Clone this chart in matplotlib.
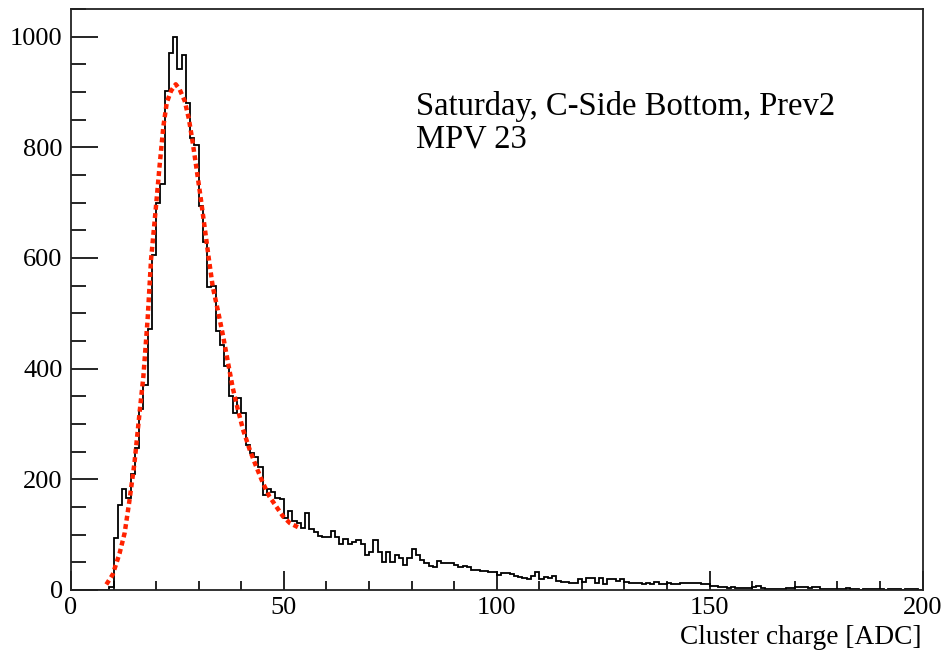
import numpy as np
import matplotlib
matplotlib.use("Agg")
import matplotlib.pyplot as plt
from matplotlib.ticker import MultipleLocator

plt.rcParams['font.family'] = ['Liberation Serif', 'DejaVu Serif']

# histogram: 200 bins of width 1 ADC, from 0 to 200
bin_edges = np.arange(0, 201, 1)
counts = [
    0, 0, 0, 0, 0, 0, 0, 0, 0, 6,
    94, 153, 182, 167, 210, 257, 327, 371, 472, 606,
    700, 734, 902, 970, 1000, 942, 966, 880, 817, 804,
    694, 629, 547, 550, 468, 443, 404, 350, 320, 347,
    320, 262, 247, 241, 223, 172, 182, 178, 166, 164,
    130, 142, 124, 121, 112, 139, 110, 105, 98, 95,
    95, 107, 95, 83, 92, 83, 87, 90, 83, 63,
    68, 90, 69, 51, 68, 51, 63, 57, 45, 57,
    75, 63, 54, 49, 43, 41, 52, 49, 49, 49,
    45, 41, 43, 41, 37, 37, 35, 35, 33, 33,
    27, 31, 30, 29, 25, 23, 22, 19, 25, 33,
    19, 23, 21, 25, 17, 15, 15, 12, 12, 19,
    15, 21, 21, 12, 21, 10, 19, 19, 17, 19,
    15, 13, 13, 13, 10, 13, 10, 15, 10, 10,
    13, 10, 11, 13, 13, 12, 12, 12, 10, 10,
    8, 8, 6, 6, 3, 5, 3, 3, 3, 3,
    6, 8, 3, 2, 1, 1, 1, 1, 3, 3,
    6, 6, 6, 3, 6, 6, 1, 1, 1, 1,
    1, 1, 3, 1, 1, 0, 1, 1, 1, 1,
    1, 0, 1, 1, 1, 0, 1, 1, 1, 0,
]

# fitted curve
fit_x = [8.3, 9.8, 11.4, 12.6, 13.7, 14.9, 16.1, 17.0, 18.0, 18.8,
         19.9, 20.8, 21.7, 22.5, 23.5, 24.6, 25.5, 26.7, 27.7, 28.6,
         29.4, 30.4, 31.4, 32.4, 33.3, 34.5, 35.7, 36.9, 38.0, 39.2,
         40.4, 42.0, 43.5, 45.1, 46.6, 48.2, 49.8, 51.4, 53.7]
fit_y = [10, 28, 66, 103, 160, 229, 320, 386, 490, 597,
         688, 766, 838, 881, 902, 914, 905, 884, 851, 808,
         766, 712, 655, 597, 548, 505, 460, 410, 365, 326,
         290, 253, 223, 193, 169, 151, 133, 121, 112]

label_line1 = "Saturday, C-Side Bottom, Prev2"
label_line2 = "MPV 23"

fig = plt.figure(figsize=(9.41, 6.52), dpi=100)
ax = fig.add_axes([71 / 941, 62 / 652, 851.5 / 941, 581 / 652])

ax.stairs(counts, bin_edges, color='black', lw=1.3)
ax.plot(fit_x, fit_y, color='#ff2200', lw=3.2, linestyle=(0, (1.1, 0.8)))

ax.set_xlim(0, 200)
ax.set_ylim(0, 1050)

ax.xaxis.set_major_locator(MultipleLocator(50))
ax.xaxis.set_minor_locator(MultipleLocator(10))
ax.yaxis.set_major_locator(MultipleLocator(200))
ax.yaxis.set_minor_locator(MultipleLocator(50))

ax.tick_params(axis='x', which='major', direction='in', length=13.5, width=1.2,
               labelsize=19, pad=5)
ax.tick_params(axis='x', which='minor', direction='in', length=6.5, width=1.2)
ax.tick_params(axis='y', which='major', direction='in', length=19.5, width=1.2,
               labelsize=19, pad=6)
ax.tick_params(axis='y', which='minor', direction='in', length=10.5, width=1.2)

for s in ax.spines.values():
    s.set_linewidth(1.3)
    s.set_color('#222222')

fig.text(416 / 941, (652 - 115) / 652, label_line1, fontsize=23.5, va='baseline')
fig.text(416 / 941, (652 - 148) / 652, label_line2, fontsize=23.5, va='baseline')
fig.text(921 / 941, (652 - 644) / 652, "Cluster charge [ADC]", fontsize=19.7,
         ha='right', va='baseline')

fig.savefig("out.png", dpi=100)
